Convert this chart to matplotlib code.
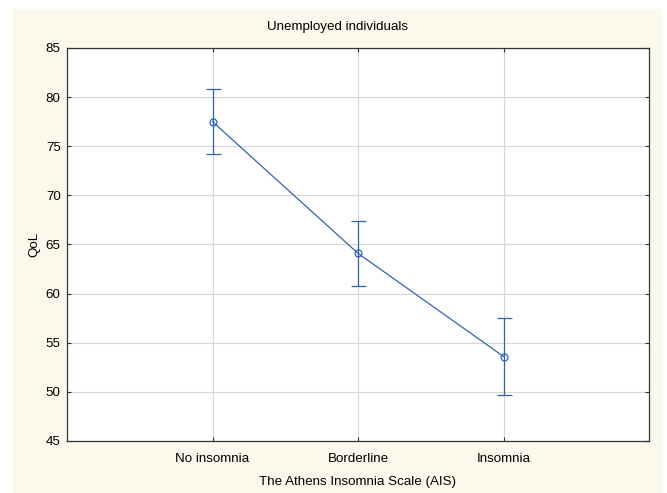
import matplotlib
matplotlib.use("Agg")
import matplotlib.pyplot as plt
from matplotlib.patches import Rectangle

categories = ["No insomnia", "Borderline", "Insomnia"]
means = [77.5, 64.1, 53.6]
upper = [80.8, 67.35, 57.5]
lower = [74.2, 60.75, 49.65]
yticks = [45, 50, 55, 60, 65, 70, 75, 80, 85]

plt.rcParams['font.family'] = ['Liberation Sans', 'DejaVu Sans']

fig = plt.figure(figsize=(6.67, 4.93), dpi=100)
fig.patch.set_facecolor('white')
# cream background panel
bg = Rectangle((12/667, 0), 650/667, (493-9)/493, transform=fig.transFigure,
               facecolor='#fcf8ec', edgecolor='none', zorder=-10)
fig.add_artist(bg)

ax = fig.add_axes([67/667, 52/493, 582/667, 393/493])
ax.set_facecolor('white')

x = list(range(1, len(categories) + 1))
yerr = [[m - l for m, l in zip(means, lower)], [u - m for m, u in zip(means, upper)]]
col = '#2f62b8'
ax.errorbar(x, means, yerr=yerr, color=col, lw=0.9, elinewidth=0.9, capsize=5.4, capthick=0.9,
            marker='o', markersize=5, markerfacecolor='none', markeredgecolor=col, markeredgewidth=0.9,
            zorder=3)

ax.set_xlim(0, 4)
ax.set_ylim(45, 85)
ax.set_xticks(x)
ax.set_xticklabels(categories)
ax.set_yticks(yticks)
ax.grid(True, color='#d6d6d6', lw=0.8)
ax.set_axisbelow(True)
ax.tick_params(direction='in', length=3, width=0.8, color='#333333', labelsize=9.6,
               top=True, right=True)
ax.tick_params(axis='x', pad=9)
ax.tick_params(axis='y', pad=4.5)
for s in ax.spines.values():
    s.set_color('#333333')
    s.set_linewidth(0.9)

fig.text(337/667, 1 - 27/493, "Unemployed individuals", fontsize=9.6, ha='center', va='center')
ax.set_xlabel("The Athens Insomnia Scale (AIS)", fontsize=9.6, labelpad=7.5)
ax.set_ylabel("QoL", fontsize=9.6, labelpad=4)

fig.savefig("out.png", dpi=100, facecolor=fig.get_facecolor())
